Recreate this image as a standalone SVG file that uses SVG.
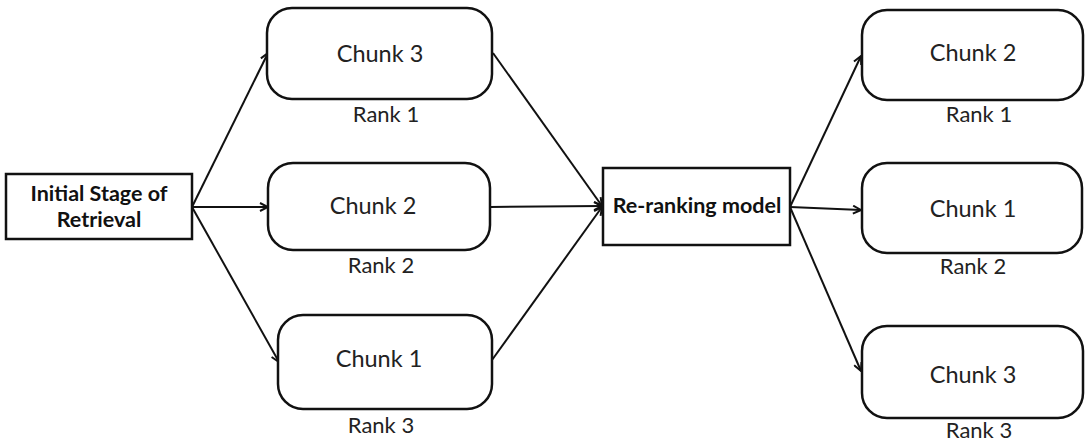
<svg xmlns="http://www.w3.org/2000/svg" width="1086" height="445" viewBox="0 0 1086 445">
  <defs>
    <marker id="arrow" viewBox="0 0 10 10" refX="9" refY="5" markerWidth="10" markerHeight="10" markerUnits="userSpaceOnUse" orient="auto">
      <path d="M1,1 L9,5 L1,9" fill="none" stroke="#111" stroke-width="2" stroke-linejoin="miter"/>
    </marker>
  </defs>
  <style>
    .box { fill: #fff; stroke: #111; stroke-width: 2.5; }
    .chunk { font-family: Lato, "Open Sans", sans-serif; font-size: 23.5px; fill: #222; text-anchor: middle; }
    .rank { font-family: Lato, "Open Sans", sans-serif; font-size: 22px; fill: #222; text-anchor: middle; }
    .bold { font-family: Lato, "Open Sans", sans-serif; font-weight: bold; font-size: 21.5px; fill: #111; text-anchor: middle; }
    .edge { fill: none; stroke: #111; stroke-width: 2; marker-end: url(#arrow); }
  </style>
  <rect width="1086" height="445" fill="#fff"/>

  <g id="connectors">
    <line class="edge" x1="192" y1="207" x2="268" y2="53"/>
    <line class="edge" x1="192" y1="207" x2="268" y2="207"/>
    <line class="edge" x1="192" y1="207" x2="279" y2="362"/>
    <line class="edge" x1="493" y1="53" x2="602" y2="206"/>
    <line class="edge" x1="490" y1="207" x2="602" y2="206"/>
    <line class="edge" x1="492" y1="360" x2="602" y2="207"/>
    <line class="edge" x1="790" y1="207" x2="861" y2="56"/>
    <line class="edge" x1="790" y1="207" x2="861" y2="210"/>
    <line class="edge" x1="790" y1="207" x2="861" y2="371"/>
  </g>

  <g id="initial-stage">
    <rect class="box" x="6" y="174" width="186" height="65"/>
    <text class="bold" x="99" y="201">Initial Stage of</text>
    <text class="bold" x="99" y="227">Retrieval</text>
  </g>

  <g id="left-chunk-3">
    <rect class="box" x="267" y="8" width="225" height="91" rx="25"/>
    <text class="chunk" x="380" y="62">Chunk 3</text>
    <text class="rank" x="386" y="122">Rank 1</text>
  </g>

  <g id="left-chunk-2">
    <rect class="box" x="268" y="163" width="222" height="87" rx="25"/>
    <text class="chunk" x="373" y="214">Chunk 2</text>
    <text class="rank" x="381" y="273">Rank 2</text>
  </g>

  <g id="left-chunk-1">
    <rect class="box" x="278" y="315" width="214" height="94" rx="25"/>
    <text class="chunk" x="379" y="367">Chunk 1</text>
    <text class="rank" x="381" y="433">Rank 3</text>
  </g>

  <g id="reranking-model">
    <rect class="box" x="603" y="168" width="187" height="77"/>
    <text class="bold" x="697" y="213">Re-ranking model</text>
  </g>

  <g id="right-chunk-2">
    <rect class="box" x="862" y="10" width="221" height="90" rx="25"/>
    <text class="chunk" x="973" y="61">Chunk 2</text>
    <text class="rank" x="979" y="122">Rank 1</text>
  </g>

  <g id="right-chunk-1">
    <rect class="box" x="862" y="163" width="220" height="90" rx="25"/>
    <text class="chunk" x="973" y="217">Chunk 1</text>
    <text class="rank" x="973" y="274">Rank 2</text>
  </g>

  <g id="right-chunk-3">
    <rect class="box" x="862" y="326" width="221" height="92" rx="25"/>
    <text class="chunk" x="973" y="383">Chunk 3</text>
    <text class="rank" x="979" y="438">Rank 3</text>
  </g>
</svg>
